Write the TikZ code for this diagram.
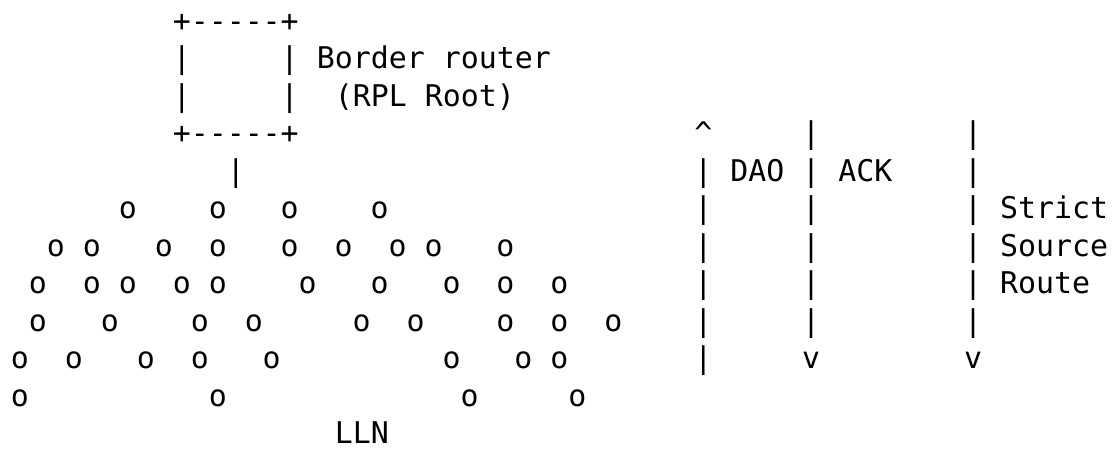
\documentclass[tikz,border=0pt]{standalone}
\usepackage{fontspec}
\newfontfamily\asciifont{DejaVu Sans Mono}

\begin{document}
\begin{tikzpicture}[x=17.98pt, y=-37.5pt,
    every node/.style={inner sep=0pt, font={\asciifont\fontsize{29.9}{37.5}\selectfont}},
    glyph/.style={anchor=base},
    word/.style={anchor=base west}]
        \useasboundingbox (-1.112,-0.827) rectangle (61.12,11.12);

        % border router box
        \node[glyph] (tl) at (9,0) {+};
        \node[glyph] (tr) at (15,0) {+};
        \node[glyph] (bl) at (9,3) {+};
        \node[glyph] (br) at (15,3) {+};
        \foreach \c in {10,...,14} {
            \node[glyph] (top\c) at (\c,0) {-};
            \node[glyph] (bot\c) at (\c,3) {-};
        }
        \foreach \r in {1,2} {
            \node[glyph] (lside\r) at (9,\r) {|};
            \node[glyph] (rside\r) at (15,\r) {|};
        }
        \node[word] (router) at (16.5,1) {Border router};
        \node[word] (root) at (17.5,2) {(RPL Root)};
        \node[glyph] (uplink) at (12,4) {|};

        % LLN
        \foreach \c in {6,11,15,20}
            \node[glyph] (n5-\c) at (\c,5) {o};
        \foreach \c in {2,4,8,11,15,18,21,23,27}
            \node[glyph] (n6-\c) at (\c,6) {o};
        \foreach \c in {1,4,6,9,11,16,20,24,27,30}
            \node[glyph] (n7-\c) at (\c,7) {o};
        \foreach \c in {1,5,10,13,19,22,27,30,33}
            \node[glyph] (n8-\c) at (\c,8) {o};
        \foreach \c in {0,3,7,10,14,24,28,30}
            \node[glyph] (n9-\c) at (\c,9) {o};
        \foreach \c in {0,11,25,31}
            \node[glyph] (n10-\c) at (\c,10) {o};
        \node[word] (lln) at (17.5,11) {LLN};

        % DAO up, ACK and source route down
        \node[glyph] (daotip) at (38,3) {\textasciicircum};
        \foreach \r in {4,...,9}
            \node[glyph] (dao\r) at (38,\r) {|};
        \foreach \r in {3,...,8} {
            \node[glyph] (ack\r) at (44,\r) {|};
            \node[glyph] (ssr\r) at (53,\r) {|};
        }
        \node[glyph] (acktip) at (44,9) {v};
        \node[glyph] (ssrtip) at (53,9) {v};
        \node[word] (dao) at (39.5,4) {DAO};
        \node[word] (ack) at (45.5,4) {ACK};
        \node[word] (strict) at (54.5,5) {Strict};
        \node[word] (source) at (54.5,6) {Source};
        \node[word] (route) at (54.5,7) {Route};
      \end{tikzpicture}
\end{document}
